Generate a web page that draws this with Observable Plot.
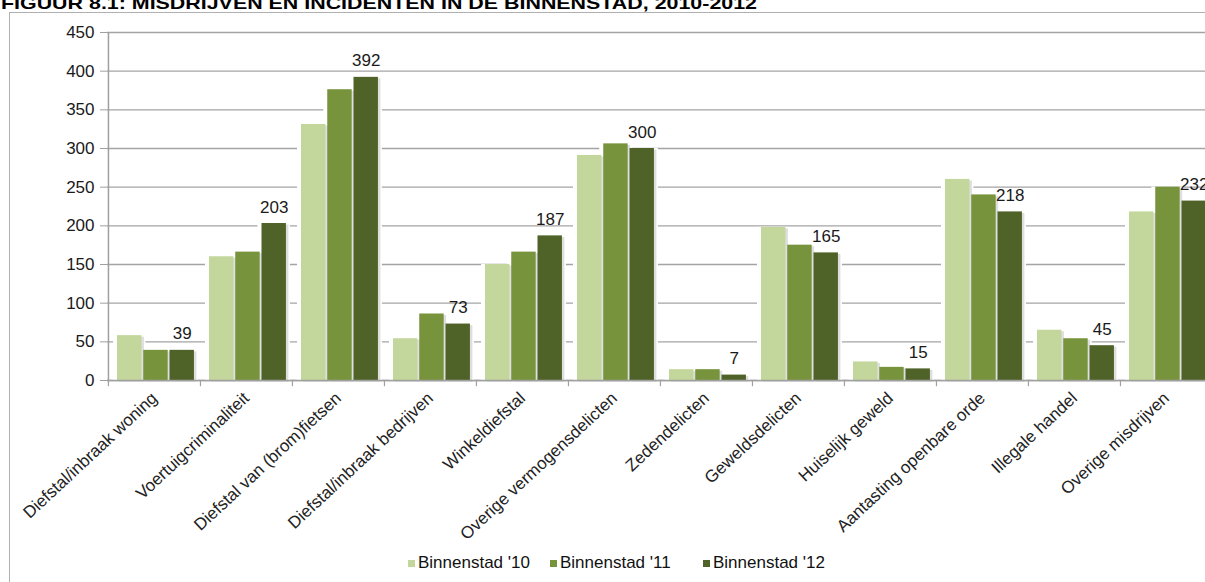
<!DOCTYPE html>
<html>
<head>
<meta charset="utf-8">
<script src="https://cdn.jsdelivr.net/npm/d3@7"></script>
<script src="https://cdn.jsdelivr.net/npm/@observablehq/plot@0.6"></script>
<style>
html, body { margin: 0; padding: 0; background: #fff; overflow: hidden; }
#wrap { position: relative; width: 1205px; height: 582px; overflow: hidden; font-family: Arial, "Liberation Sans", sans-serif; background: #fff; }
#frame { position: absolute; left: 9px; top: 12px; width: 1400px; height: 800px; border-left: 1.5px solid #b0b0b0; border-top: 1.5px solid #b0b0b0; box-sizing: border-box; }
#title { position: absolute; left: 0; top: 0; }
#chart { position: absolute; left: 0; top: 0; width: 1230px; }
#chart svg { overflow: visible; max-width: none !important; }
.leg { position: absolute; top: 552px; height: 22px; font-size: 17px; color: #111; white-space: nowrap; display: flex; align-items: center; }
.leg i { display: inline-block; width: 7px; height: 7px; margin-right: 3px; }
</style>
</head>
<body>
<div id="wrap">
  <div id="frame"></div>
  <svg id="title" width="1205" height="14">
    <text x="1" y="9" font-family="Arial, 'Liberation Sans', sans-serif" font-weight="bold" font-size="17" fill="#000" textLength="756" lengthAdjust="spacingAndGlyphs">FIGUUR 8.1: MISDRIJVEN EN INCIDENTEN IN DE BINNENSTAD, 2010-2012</text>
  </svg>
  <div id="chart"></div>
  <div id="legend"></div>
</div>
<script>
const categories = [
  "Diefstal/inbraak woning",
  "Voertuigcriminaliteit",
  "Diefstal van (brom)fietsen",
  "Diefstal/inbraak bedrijven",
  "Winkeldiefstal",
  "Overige vermogensdelicten",
  "Zedendelicten",
  "Geweldsdelicten",
  "Huiselijk geweld",
  "Aantasting openbare orde",
  "Illegale handel",
  "Overige misdrijven"
];
const series = ["Binnenstad '10", "Binnenstad '11", "Binnenstad '12"];
const values2010 = [58, 160, 331, 54, 150, 291, 14, 198, 24, 260, 65, 218];
const values2011 = [39, 166, 376, 86, 166, 306, 14, 175, 17, 240, 54, 250];
const values2012 = [39, 203, 392, 73, 187, 300, 7, 165, 15, 218, 45, 232];
const yTicks = [0, 50, 100, 150, 200, 250, 300, 350, 400, 450];
const colors = ["#c3d69b", "#77933c", "#4f6228"];

const allValues = [values2010, values2011, values2012];
const rows = series.map((s, si) => categories.map((c, ci) => ({category: c, series: s, si, value: allValues[si][ci]})));

const W = 1230, marginLeft = 107, marginRight = 18;
const B = (W - marginLeft - marginRight) / categories.length;
const padL = 9, barW = 24.5, step = 26.25;
const inL = i => padL + i * step;
const inR = i => B - inL(i) - barW;

const marks = [
  Plot.gridY(yTicks, {stroke: "#a4a4a4", strokeOpacity: 1, strokeWidth: 1.4}),
];
rows.forEach((r, i) => {
  marks.push(Plot.barY(r, {x: "category", y: "value", fill: "#fff",
    insetLeft: inL(i) - 4, insetRight: inR(i) - 4}));
});
rows.forEach((r, i) => {
  marks.push(Plot.barY(r, {x: "category", y: "value", fill: "#000", fillOpacity: 0.13,
    insetLeft: inL(i) + 2, insetRight: inR(i) - 2.5, dy: 1.5}));
});
rows.forEach((r, i) => {
  marks.push(Plot.barY(r, {x: "category", y: "value", fill: colors[i],
    insetLeft: inL(i), insetRight: inR(i)}));
});
marks.push(
  Plot.ruleY([0], {stroke: "#a0a0a0", strokeWidth: 1.5}),
  Plot.ruleX([categories[0]], {x: d => d, dx: -B / 2, stroke: "#a0a0a0", strokeWidth: 1.5}),
  Plot.ruleX(categories, {x: d => d, dx: -B / 2, y1: 0, y2: -8, stroke: "#a0a0a0", strokeWidth: 1.2}),
  Plot.text(rows[2], {x: "category", y: "value", text: d => String(d.value),
    dx: inL(2) + barW / 2 - B / 2, dy: -11, lineAnchor: "bottom", textAnchor: "middle",
    fontSize: 17, fill: "#1a1a1a"}),
  Plot.axisY({ticks: yTicks, tickSize: 7, tickPadding: 6, fontSize: 17, color: "#1a1a1a", stroke: "#a0a0a0", label: null}),
  Plot.axisX({tickSize: 0, tickRotate: -43, tickPadding: 15, fontSize: 17, color: "#222", label: null})
);

const chart = Plot.plot({
  width: W,
  height: 582,
  marginLeft,
  marginRight,
  marginTop: 32,
  marginBottom: 202,
  style: {fontFamily: "Arial, 'Liberation Sans', sans-serif", background: "transparent", overflow: "visible", maxWidth: "none"},
  x: {type: "band", domain: categories, padding: 0},
  y: {domain: [0, 450]},
  marks
});
document.getElementById("chart").appendChild(chart);

const legend = document.getElementById("legend");
const legX = [408, 550, 703];
series.forEach((s, i) => {
  const d = document.createElement("div");
  d.className = "leg";
  d.style.left = legX[i] + "px";
  d.innerHTML = `<i style="background:${colors[i]}"></i><span>${s}</span>`;
  legend.appendChild(d);
});
</script>
</body>
</html>
